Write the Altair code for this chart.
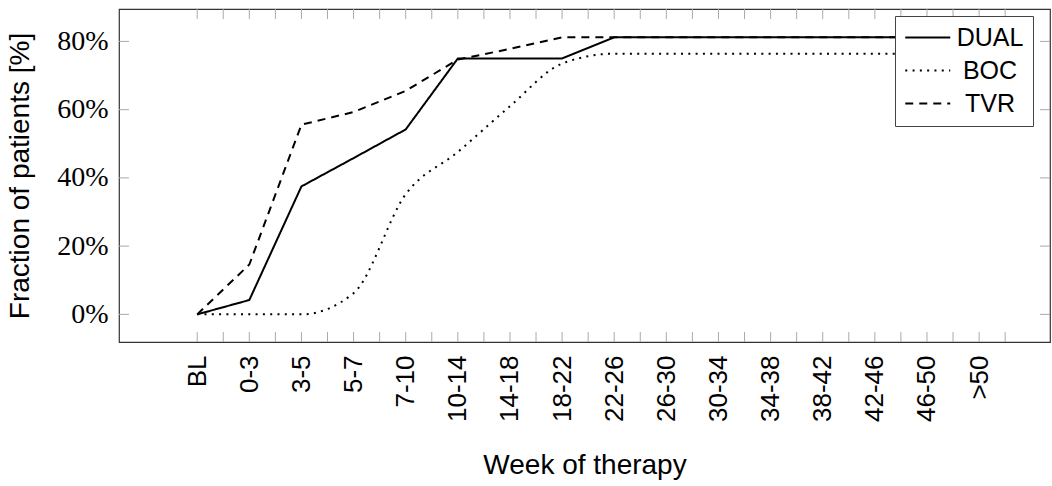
import altair as alt
import pandas as pd
import numpy as np

categories = ["BL", "0-3", "3-5", "5-7", "7-10", "10-14", "14-18", "18-22",
              "22-26", "26-30", "30-34", "34-38", "38-42", "42-46", "46-50", ">50"]
dual = [0, 4.2, 37.5, 45.8, 54.2, 75.0, 75.0, 75.0, 81.2, 81.2, 81.2, 81.2, 81.2, 81.2, 81.2, 81.2]
boc = [0, 0, 0, 6.2, 35.2, 47.6, 61.0, 73.5, 76.4, 76.4, 76.4, 76.4, 76.4, 76.4, 76.4, 76.4]
tvr = [0, 14.6, 55.6, 59.3, 65.5, 74.7, 77.8, 81.2, 81.2, 81.2, 81.2, 81.2, 81.2, 81.2, 81.2, 81.2]
series_names = ["DUAL", "BOC", "TVR"]
y_tick_values = [0, 20, 40, 60, 80]
x_minor_ticks = [i * 0.5 for i in range(32)]

W, H = 931, 333

rows = []
for name, vals in zip(series_names, [dual, boc, tvr]):
    for i, (c, v) in enumerate(zip(categories, vals)):
        rows.append({"idx": i, "week": c, "value": v, "series": name})
df = pd.DataFrame(rows)

label_map = "{" + ",".join(f"'{i}':'{c}'" for i, c in enumerate(categories)) + "}"

xscale = alt.Scale(domain=[-1.5, 16.36], nice=False, zero=False)
yscale = alt.Scale(domain=[-8.1, 89.5], nice=False, zero=False)
dash_scale = alt.Scale(domain=series_names, range=[[1, 0], [2, 5.3], [8, 6]])

x_enc = alt.X("idx:Q", scale=xscale,
              axis=alt.Axis(values=list(range(len(categories))),
                            labelExpr=f"{label_map}[toString(datum.value)]",
                            labelAngle=270, labelAlign="right", labelBaseline="middle",
                            labelPadding=13, ticks=False, domain=False, grid=False,
                            labelFont="Liberation Sans", labelFontSize=26, labelColor="black",
                            title="Week of therapy", titleFont="Liberation Sans",
                            titleFontSize=28, titleFontWeight="normal", titleColor="black",
                            titlePadding=30, labelOverlap=False))
y_enc = alt.Y("value:Q", scale=yscale,
              axis=alt.Axis(values=y_tick_values, labelExpr="datum.value + '%'",
                            ticks=False, domain=False, grid=False, labelPadding=11,
                            labelFont="Liberation Serif", labelFontSize=28, labelColor="black",
                            title="Fraction of patients [%]", titleFont="Liberation Sans",
                            titleFontSize=28, titleFontWeight="normal", titleColor="black",
                            titlePadding=22))

dash_enc = alt.StrokeDash("series:N", scale=dash_scale,
                          legend=alt.Legend(title=None, orient="none", legendX=776, legendY=7,
                                            fillColor="white", strokeColor="#444",
                                            padding=9, symbolType="M-1,0H3",
                                            symbolStrokeColor="black", symbolStrokeWidth=2,
                                            symbolFillColor="transparent",
                                            symbolSize=506, labelFont="Liberation Sans",
                                            labelFontSize=25, labelColor="black",
                                            labelAlign="center", labelOffset=61,
                                            rowPadding=7))

base = alt.Chart(df)
lin = base.transform_filter("datum.series != 'BOC'").mark_line(
    color="black", strokeWidth=2, interpolate="linear").encode(
    x=x_enc, y=y_enc, strokeDash=dash_enc, detail="series:N")
smooth = base.transform_filter("datum.series == 'BOC'").mark_line(
    color="black", strokeWidth=2, interpolate="monotone").encode(
    x=alt.X("idx:Q", scale=xscale), y=alt.Y("value:Q", scale=yscale),
    strokeDash=alt.StrokeDash("series:N", scale=dash_scale))

xt = pd.DataFrame({"t": x_minor_ticks})
yt = pd.DataFrame({"t": y_tick_values})
tick_color = "#aaaaaa"
bot = alt.Chart(xt).mark_rule(color=tick_color, strokeWidth=1).encode(
    x=alt.X("t:Q", scale=xscale), y=alt.value(H - 10), y2=alt.value(H))
top = alt.Chart(xt).mark_rule(color=tick_color, strokeWidth=1).encode(
    x=alt.X("t:Q", scale=xscale), y=alt.value(0), y2=alt.value(10))
left = alt.Chart(yt).mark_rule(color=tick_color, strokeWidth=1).encode(
    y=alt.Y("t:Q", scale=yscale), x=alt.value(0), x2=alt.value(10))
right = alt.Chart(yt).mark_rule(color=tick_color, strokeWidth=1).encode(
    y=alt.Y("t:Q", scale=yscale), x=alt.value(W - 10), x2=alt.value(W))

chart = alt.layer(bot, top, left, right, lin, smooth).properties(
    width=W, height=H,
    autosize=alt.AutoSizeParams(type="none"),
    padding={"left": 119, "top": 9, "right": 2, "bottom": 144},
    background="white",
).configure_view(stroke="#333333", strokeWidth=1.2)

chart.save("out.html", embed_options={"renderer": "svg", "actions": False})
